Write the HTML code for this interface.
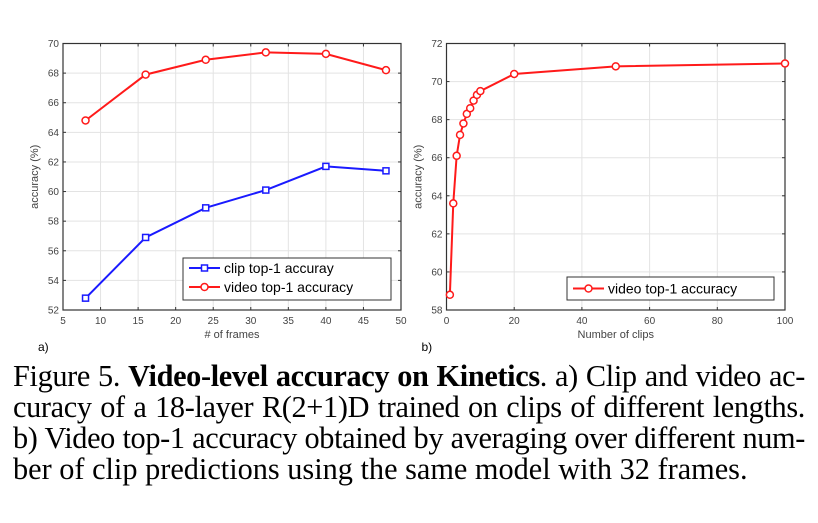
<!DOCTYPE html>
<html><head><meta charset="utf-8"><style>
body{margin:0;width:818px;height:523px;background:#fff;overflow:hidden;position:relative}
svg{position:absolute;left:0;top:0}
.cap{position:absolute;left:13px;width:792px;font-family:"Liberation Serif",serif;font-size:30.3px;color:#000;text-align:justify;text-align-last:justify;white-space:nowrap;line-height:31px;word-spacing:-5px;letter-spacing:-0.35px}
</style></head><body>
<svg id="chart" width="818" height="355" font-family="Liberation Sans, sans-serif"></svg>
<div class="cap" style="top:361px">Figure 5. <b>Video-level accuracy on Kinetics</b>. a) Clip and video ac-</div>
<div class="cap" style="top:392px">curacy of a 18-layer R(2+1)D trained on clips of different lengths.</div>
<div class="cap" style="top:423px">b) Video top-1 accuracy obtained by averaging over different num-</div>
<div class="cap" style="top:454px;text-align-last:left;word-spacing:0;letter-spacing:0">ber of clip predictions using the same model with 32 frames.</div>
<script>
const framesX=[8,16,24,32,40,48];
const clipAcc=[52.8,56.9,58.9,60.1,61.7,61.4];
const videoAcc=[64.8,67.9,68.9,69.4,69.3,68.2];
const leftXTicks=[5,10,15,20,25,30,35,40,45,50];
const leftYTicks=[52,54,56,58,60,62,64,66,68,70];
const clipsX=[1,2,3,4,5,6,7,8,9,10,20,50,100];
const clipsAcc=[58.8,63.6,66.1,67.2,67.8,68.3,68.6,69.0,69.3,69.5,70.4,70.8,70.95];
const rightXTicks=[0,20,40,60,80,100];
const rightYTicks=[58,60,62,64,66,68,70,72];

const svg=document.getElementById('chart');
const NS='http://www.w3.org/2000/svg';
function mk(tag,attrs,parent){const e=document.createElementNS(NS,tag);for(const k in attrs)e.setAttribute(k,attrs[k]);(parent||svg).appendChild(e);return e;}

function panel(name,box,xd,yd,xt,yt,xlabel,plab){
  const sx=v=>box.x0+(v-xd[0])/(xd[1]-xd[0])*(box.x1-box.x0);
  const sy=v=>box.y1-(v-yd[0])/(yd[1]-yd[0])*(box.y1-box.y0);
  const g=mk('g',{});
  
  
  xt.forEach(t=>{
    const l=mk('line',{x1:sx(t),x2:sx(t),y1:box.y0,y2:box.y1,stroke:'#e3e3e3','stroke-width':1},g);
    
    mk('line',{x1:sx(t),x2:sx(t),y1:box.y1,y2:box.y1-3,stroke:'#333'},g);
    mk('line',{x1:sx(t),x2:sx(t),y1:box.y0,y2:box.y0+3,stroke:'#333'},g);
    const tx=mk('text',{x:sx(t),y:box.y1+14,'font-size':10,fill:'#444','text-anchor':'middle'},g);tx.textContent=t;
    
  });
  yt.forEach(t=>{
    const l=mk('line',{x1:box.x0,x2:box.x1,y1:sy(t),y2:sy(t),stroke:'#e3e3e3','stroke-width':1},g);
    
    mk('line',{x1:box.x0,x2:box.x0+3,y1:sy(t),y2:sy(t),stroke:'#333'},g);
    mk('line',{x1:box.x1,x2:box.x1-3,y1:sy(t),y2:sy(t),stroke:'#333'},g);
    const tx=mk('text',{x:box.x0-4,y:sy(t)+3.5,'font-size':10,fill:'#444','text-anchor':'end'},g);tx.textContent=t;
    
  });
  const fr=mk('rect',{x:box.x0,y:box.y0,width:box.x1-box.x0,height:box.y1-box.y0,fill:'none',stroke:'#333','stroke-width':1.2},g);
  
  const xl=mk('text',{x:(box.x0+box.x1)/2,y:box.y1+28,'font-size':11,fill:'#444','text-anchor':'middle'},g);xl.textContent=xlabel;
  
  const cy=(box.y0+box.y1)/2;const yx=box.x0-25;
  const yl=mk('text',{x:yx,y:cy,'font-size':11,fill:'#444','text-anchor':'middle',transform:`rotate(-90 ${yx} ${cy})`},g);yl.textContent='accuracy (%)';
  
  const pl=mk('text',{x:box.x0-25,y:box.y1+41,'font-size':12,fill:'#000'},g);pl.textContent=plab;
  
  return {sx,sy,g};
}
function series(p,xs,ys,color,marker,name){
  const pts=xs.map((x,i)=>p.sx(x)+','+p.sy(ys[i])).join(' ');
  const pl=mk('polyline',{points:pts,fill:'none',stroke:color,'stroke-width':2},p.g);
  
  xs.forEach((x,i)=>{
    let m;
    if(marker==='sq') m=mk('rect',{x:p.sx(x)-3,y:p.sy(ys[i])-3,width:6,height:6,fill:'#fff',stroke:color,'stroke-width':1.5},p.g);
    else m=mk('circle',{cx:p.sx(x),cy:p.sy(ys[i]),r:3.5,fill:'#fff',stroke:color,'stroke-width':1.5},p.g);
    
  });
}
function legend(p,x,y,w,h,items){
  const r=mk('rect',{x,y,width:w,height:h,fill:'#fff',stroke:'#333','stroke-width':1},p.g);
  
  items.forEach((it,i)=>{
    const yy=y+(items.length===1?h/2:10+i*19);
    mk('line',{x1:x+6,x2:x+37,y1:yy,y2:yy,stroke:it.c,'stroke-width':2},p.g);
    if(it.m==='sq') mk('rect',{x:x+18.5,y:yy-3,width:6,height:6,fill:'#fff',stroke:it.c,'stroke-width':1.5},p.g);
    else mk('circle',{cx:x+21.5,cy:yy,r:3.5,fill:'#fff',stroke:it.c,'stroke-width':1.5},p.g);
    const t=mk('text',{x:x+41,y:yy+5,'font-size':14,fill:'#000'},p.g);t.textContent=it.t;
    
  });
}
const L=panel('left-chart',{x0:63,x1:401,y0:43.5,y1:310},[5,50],[52,70],leftXTicks,leftYTicks,'# of frames','a)');
series(L,framesX,videoAcc,'#ff1a1a','o','video-accuracy');
series(L,framesX,clipAcc,'#1a1aff','sq','clip-accuracy');
legend(L,183,258,208,42,[{c:'#1a1aff',m:'sq',t:'clip top-1 accuray'},{c:'#ff1a1a',m:'o',t:'video top-1 accuracy'}]);
const R=panel('right-chart',{x0:446.5,x1:785,y0:43.5,y1:310},[0,100],[58,72],rightXTicks,rightYTicks,'Number of clips','b)');
series(R,clipsX,clipsAcc,'#ff1a1a','o','clips-video-accuracy');
legend(R,567,277,207,23,[{c:'#ff1a1a',m:'o',t:'video top-1 accuracy'}]);
</script>
</body></html>
